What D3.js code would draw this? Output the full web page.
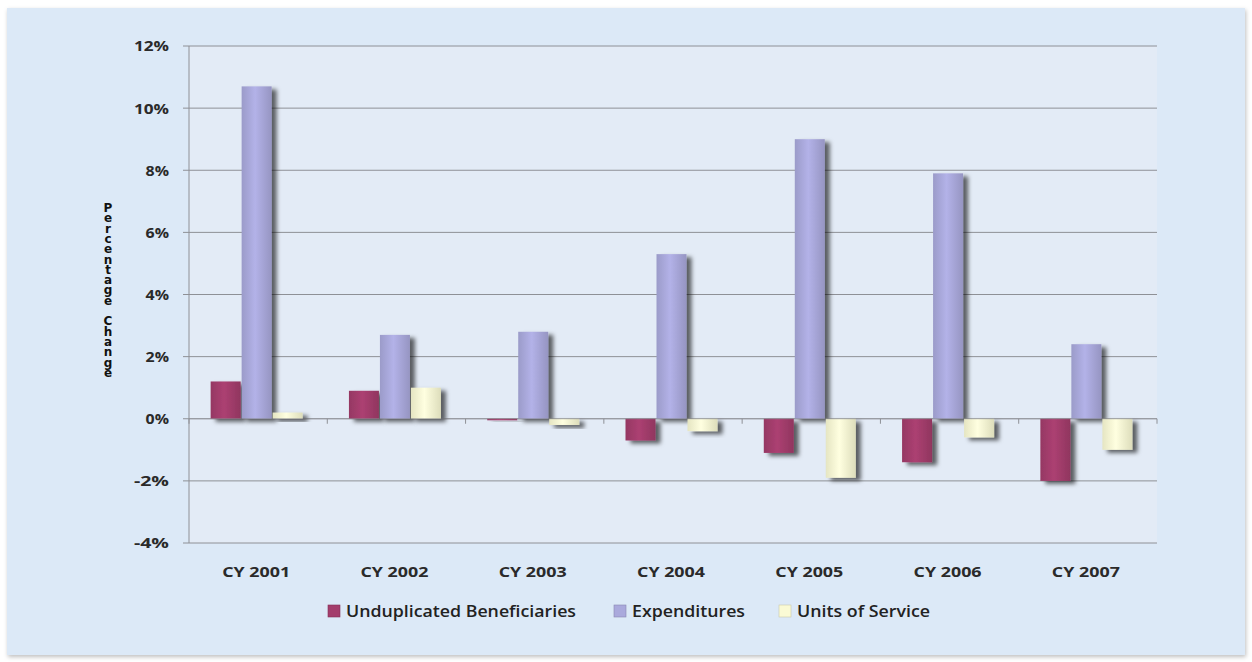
<!DOCTYPE html>
<html><head><meta charset="utf-8">
<script src="https://cdn.jsdelivr.net/npm/d3@7"></script>
<style>body{margin:0;background:#fff;}svg{display:block;}</style>
</head><body>
<svg id="c" width="1252" height="662"></svg>
<script>
const categories = ["CY 2001","CY 2002","CY 2003","CY 2004","CY 2005","CY 2006","CY 2007"];
const seriesNames = ["Unduplicated Beneficiaries","Expenditures","Units of Service"];
const beneficiaries = [1.2, 0.9, -0.05, -0.7, -1.1, -1.4, -2.0];
const expenditures = [10.7, 2.7, 2.8, 5.3, 9.0, 7.9, 2.4];
const unitsOfService = [0.2, 1.0, -0.2, -0.4, -1.9, -0.6, -1.0];
const yTicks = [-4,-2,0,2,4,6,8,10,12];
const colors = ["#a33d6c","#aaa9dc","#fafad4"];

const series = [beneficiaries, expenditures, unitsOfService];
const svg = d3.select("#c");
const defs = svg.append("defs");
const f = defs.append("filter").attr("id","sh").attr("x","-30%").attr("y","-30%").attr("width","180%").attr("height","180%");
f.append("feDropShadow").attr("dx",5).attr("dy",3).attr("stdDeviation",2.2).attr("flood-color","#000").attr("flood-opacity",0.6);
const fo = defs.append("filter").attr("id","osh").attr("x","-5%").attr("y","-5%").attr("width","110%").attr("height","110%");
fo.append("feDropShadow").attr("dx",1).attr("dy",2).attr("stdDeviation",2).attr("flood-color","#000").attr("flood-opacity",0.25);

colors.forEach((c,i)=>{
  const g = defs.append("linearGradient").attr("id","g"+i).attr("x1","0").attr("x2","1").attr("y1","0").attr("y2","0");
  g.append("stop").attr("offset","0%").attr("stop-color",d3.color(c).darker(0.25));
  g.append("stop").attr("offset","45%").attr("stop-color",d3.color(c).brighter(0.15));
  g.append("stop").attr("offset","100%").attr("stop-color",d3.color(c).darker(0.35));
});

svg.append("rect").attr("x",7).attr("y",8).attr("width",1238).attr("height",647)
  .attr("fill","#dce9f7").attr("filter","url(#osh)");

const L=189, R=1157, T=46, B=543;
const x = d3.scaleBand().domain(categories).range([L,R]);
const y = d3.scaleLinear().domain([-4,12]).range([B,T]);
const xs = d3.scaleBand().domain(d3.range(3)).range([0, 93]);

svg.append("rect").attr("x",L).attr("y",T).attr("width",R-L).attr("height",B-T).attr("fill","#e3ebf6");

svg.append("g").selectAll("line").data(yTicks).join("line")
  .attr("x1",L-6).attr("x2",R).attr("y1",d=>y(d)).attr("y2",d=>y(d))
  .attr("stroke","#8e9096").attr("stroke-width",1);
svg.append("line").attr("x1",L).attr("x2",L).attr("y1",T).attr("y2",B).attr("stroke","#8e9096");

svg.append("g").selectAll("text").data(yTicks).join("text")
  .attr("x",169).attr("y",d=>y(d)).attr("dy","0.36em").attr("text-anchor","end")
  .attr("font-family","'Open Sans', sans-serif").attr("font-size",15).attr("font-weight","bold")
  .attr("fill","#2a2a2a").attr("textLength",d=>(String(d).length+1)*11.7).attr("lengthAdjust","spacingAndGlyphs")
  .text(d=>d+"%");

svg.append("g").selectAll("line").data(d3.range(categories.length+1)).join("line")
  .attr("x1",i=>L+i*x.step()).attr("x2",i=>L+i*x.step()).attr("y1",y(0)).attr("y2",y(0)+5)
  .attr("stroke","#8e9096");

const bw = 30;
const gOff = (x.bandwidth()-93)/2 - 2;
const bars = svg.append("g");
series.forEach((vals,si)=>{
  bars.selectAll(".b"+si).data(vals).join("rect")
    .attr("x",(d,i)=>x(categories[i])+gOff+xs(si)+1)
    .attr("width",bw)
    .attr("y",d=>y(Math.max(0,d)))
    .attr("height",d=>Math.max(1.5,Math.abs(y(d)-y(0))))
    .attr("fill","url(#g"+si+")")
    .attr("filter","url(#sh)");
});
svg.append("line").attr("x1",L).attr("x2",R).attr("y1",y(0)).attr("y2",y(0)).attr("stroke","#8e9096").attr("stroke-opacity",0.6);

svg.append("g").selectAll("text").data(categories).join("text")
  .attr("x",d=>x(d)+x.bandwidth()/2-2).attr("y",577).attr("text-anchor","middle")
  .attr("font-family","'Open Sans', sans-serif").attr("font-size",15).attr("font-weight","bold")
  .attr("fill","#2a2a2a").attr("textLength",68).attr("lengthAdjust","spacingAndGlyphs").text(d=>d);

// y axis title: stacked upright letters
const title = "Percentage Change";
const tt = svg.append("text").attr("font-family","'DejaVu Sans', sans-serif").attr("font-size",12).attr("font-weight","bold")
  .attr("fill","#111").attr("text-anchor","middle");
tt.selectAll("tspan").data(title.split("")).join("tspan")
  .attr("x",108).attr("y",(d,i)=>212+i*10.3).text(d=>d);

const legX = [328, 614, 779];
const legW = [230, 113, 133];
const lg = svg.append("g");
seriesNames.forEach((n,i)=>{
  lg.append("rect").attr("x",legX[i]).attr("y",605).attr("width",12).attr("height",12)
    .attr("fill",colors[i]).attr("stroke",d3.color(colors[i]).darker(0.6)).attr("stroke-width",0.6);
  lg.append("text").attr("x",legX[i]+18).attr("y",617)
    .attr("font-family","'Open Sans', sans-serif").attr("font-size",16).attr("font-weight",600)
    .attr("fill","#222").attr("textLength",legW[i]).attr("lengthAdjust","spacingAndGlyphs").text(n);
});
</script>
</body></html>
